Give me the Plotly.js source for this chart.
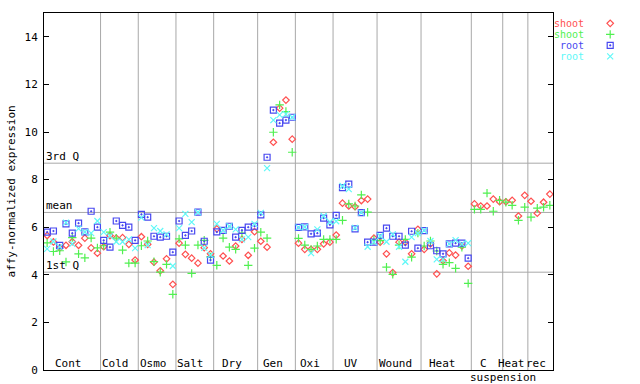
<!DOCTYPE html>
<html><head><meta charset="utf-8">
<script src="https://cdn.plot.ly/plotly-3.0.1.min.js"></script>
<style>html,body{margin:0;padding:0;background:#fff;}#chart{width:640px;height:384px;}</style>
</head><body><div id="chart"></div>
<script>
const groups = ['Cont','Cold','Osmo','Salt','Dry','Gen','Oxi','UV','Wound','Heat','C suspension','Heat','rec'];
const counts = [9,6,6,6,7,6,6,7,7,8,5,4,4];
const quartileNames = ['3rd Q','mean','1st Q'];
const quartileValues = [8.69, 6.62, 4.11];
const seriesNames = ['shoot','shoot','root','root'];

const shootRed = [5.65,5.38,5.13,5.24,5.39,5.24,5.54,5.13,4.91,
 5.18,5.65,5.54,5.56,5.28,4.62,
 5.60,5.28,4.53,4.17,4.67,3.60,
 5.33,4.86,4.70,4.49,5.14,4.88,
 5.93,4.79,4.58,5.21,5.49,4.82,5.81,
 5.41,5.16,9.57,11.00,11.34,9.70,
 5.33,5.07,5.07,5.07,5.30,5.37,
 5.67,7.01,6.89,6.86,7.12,7.18,5.54,
 5.37,4.88,4.09,5.37,5.37,4.88,5.91,
 5.07,5.30,4.04,4.59,4.92,4.83,5.21,4.36,
 6.98,6.89,6.89,7.18,7.07,
 7.07,7.13,6.47,7.34,
 7.09,6.59,7.05,7.39];
const shootGreen = [5.34,4.98,5.01,4.54,5.56,4.88,4.71,5.54,5.13,
 5.22,5.79,5.54,5.04,4.49,4.49,
 5.22,5.42,4.55,4.11,4.44,3.18,
 5.51,5.25,4.06,5.25,5.45,4.75,
 4.40,5.54,5.16,5.07,5.75,4.40,5.12,
 5.79,5.54,9.99,11.14,10.86,9.15,
 5.53,5.25,5.07,5.21,5.49,5.49,
 5.49,6.29,6.98,6.89,7.36,6.63,5.46,
 5.44,4.32,4.02,5.25,5.49,4.74,5.75,
 5.21,5.42,5.00,4.44,4.51,4.27,5.16,3.64,
 6.75,6.75,7.43,6.67,7.13,
 7.05,6.92,6.29,6.84,
 6.42,6.80,6.84,6.92];
const rootBlue = [5.79,5.84,5.24,6.14,5.75,6.17,5.80,6.67,6.00,
 5.45,5.16,6.26,6.08,6.00,5.45,
 6.54,6.42,5.62,5.58,5.62,4.95,
 6.26,5.66,5.84,6.63,5.41,4.62,
 5.80,5.87,6.04,5.58,5.87,6.00,6.04,
 6.52,8.94,10.92,10.37,10.50,10.62,
 5.99,6.01,5.72,5.75,6.38,6.10,
 6.50,7.66,7.81,5.93,6.61,5.37,5.37,
 5.66,5.96,5.62,5.62,5.25,5.83,5.12,
 5.86,5.22,5.01,4.88,5.30,5.33,5.33,4.70,
 null,null,null,null,null,
 null,null,null,null,
 null,null,null,null];
const rootCyan = [5.09,5.40,5.17,6.19,5.30,5.94,5.80,5.75,6.26,
 5.79,5.63,5.39,5.39,5.49,5.12,
 6.40,5.25,5.96,5.84,5.70,4.37,
 5.96,6.56,6.21,6.63,5.13,4.83,
 6.14,5.87,6.04,5.91,5.49,5.58,6.14,
 6.60,8.48,10.50,10.72,10.75,10.62,
 5.99,6.01,4.91,5.91,6.47,6.22,
 6.25,7.73,7.60,5.97,6.61,5.18,5.37,
 5.63,5.39,5.70,5.18,4.55,5.58,5.75,
 5.86,5.42,4.65,4.65,5.30,5.46,5.30,5.33,
 null,null,null,null,null,
 null,null,null,null,
 null,null,null,null];

const FONT = 'DejaVu Sans Mono, Liberation Mono, monospace';
const GRAY = '#a8a8a8';
const colors = ['#ff5050','#50f050','#4848f0','#60f8f8'];
const symbols = ['diamond-open','cross-thin-open','square-open-dot','x-thin-open'];
const sizes = [5,6,6,6];
const allSeries = [shootRed, shootGreen, rootBlue, rootCyan];

const n = counts.reduce((a,b)=>a+b,0);
const xs = Array.from({length:n},(_,i)=>i);

const traces = allSeries.map((vals,k)=>({
  type:'scatter', mode:'markers', x: xs, y: vals, xaxis:'x', yaxis:'y',
  marker:{symbol:symbols[k], size:sizes[k], color:colors[k], line:{color:colors[k], width:1.2}},
  showlegend:false, hoverinfo:'skip'
}));
// legend glyphs
seriesNames.forEach((nm,k)=>{
  traces.push({type:'scatter', mode:'markers', x:[0.5], y:[k], xaxis:'x2', yaxis:'y2',
    marker:{symbol:symbols[k], size:sizes[k], color:colors[k], line:{color:colors[k], width:1.2}},
    showlegend:false, hoverinfo:'skip', cliponaxis:false});
});

const shapes = [];
const annotations = [];
let cum = 0;
const starts = [];
counts.forEach((c,g)=>{ starts.push(cum); cum += c;
  if (g < counts.length-1) shapes.push({type:'line', xref:'x', yref:'y', x0:cum-0.5, x1:cum-0.5, y0:0, y1:15, line:{color:GRAY,width:1}, layer:'below'});
});
quartileValues.forEach((v,k)=>{
  shapes.push({type:'line', xref:'x', yref:'y', x0:-0.5, x1:n-0.5, y0:v, y1:v, line:{color:GRAY,width:1}, layer:'below'});
  annotations.push({xref:'x', yref:'y', x:-0.5, y:v, text:quartileNames[k], showarrow:false, xanchor:'left', yanchor:'bottom', xshift:0, yshift:-2, font:{family:FONT,size:11,color:'#000'}});
});
groups.forEach((g,k)=>{
  const center = starts[k] + counts[k]/2 - 0.5;
  const parts = g.split(' ');
  annotations.push({xref:'x', yref:'y', x:center, y:0, text:parts[0], showarrow:false, xanchor:'center', yanchor:'bottom', xshift:-4, yshift:-2, font:{family:FONT,size:11,color:'#000'}});
  if (parts.length>1) annotations.push({xref:'x', yref:'y', x:center, y:0, text:parts.slice(1).join(' '), showarrow:false, xanchor:'center', yanchor:'top', xshift:16, yshift:1, font:{family:FONT,size:11,color:'#000'}});
});
seriesNames.forEach((nm,k)=>{
  annotations.push({xref:'x2', yref:'y2', x:0.08, y:k, text:nm, showarrow:false, xanchor:'right', yanchor:'middle', borderpad:0, font:{family:FONT,size:10,color:colors[k]}});
});
annotations.push({xref:'paper', yref:'paper', x:-33/596, y:0.5, text:'affy-normalized expression', textangle:-90, showarrow:false, xanchor:'center', yanchor:'middle', font:{family:FONT,size:11,color:'#000'}});

const layout = {
  width:640, height:384, margin:{l:44, r:0, t:13, b:14},
  paper_bgcolor:'#fff', plot_bgcolor:'#fff', showlegend:false,
  font:{family:FONT, size:11, color:'#000'},
  xaxis:{domain:[0, 509/596], range:[-0.5, n-0.5], showgrid:false, zeroline:false, showticklabels:false, ticks:'', showline:true, linecolor:'#000', linewidth:1, mirror:true},
  yaxis:{range:[0,15], dtick:2, tick0:0, showgrid:false, zeroline:false, ticks:'inside', ticklen:5, tickcolor:'#000', showline:true, linecolor:'#000', linewidth:1, mirror:'ticks', tickfont:{family:FONT,size:11,color:'#000'}, ticklabelstandoff:3},
  xaxis2:{domain:[0.9,1], range:[0,1], visible:false, anchor:'y2'},
  yaxis2:{domain:[0,1], range:[31.51,-0.94], visible:false, anchor:'x2'},
  shapes, annotations
};
Plotly.newPlot('chart', traces, layout, {staticPlot:true, displayModeBar:false});
</script></body></html>
